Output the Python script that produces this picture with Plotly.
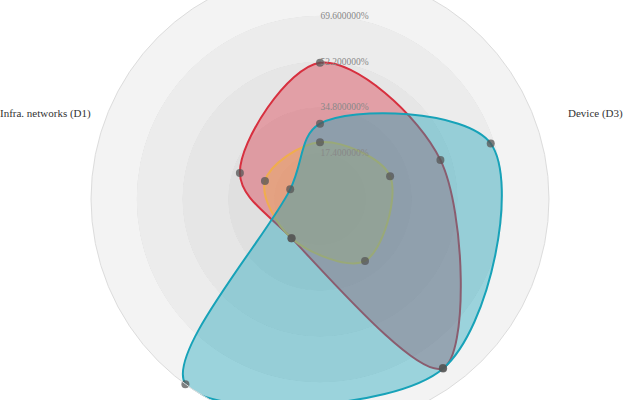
import math
import plotly.graph_objects as go

categories = ["Infra. networks (D1)", "(D2)", "Device (D3)", "(D4)", "(D5)"]
series_names = ["Series A", "Series B", "Series C"]
red_values = [32.0, 51.8, 48.1, 79.4, 18.4]
orange_values = [22.0, 21.6, 28.0, 29.1, 18.4]
teal_values = [11.9, 28.6, 68.2, 79.6, 87.0]
radial_ticks = [17.4, 34.8, 52.2, 69.6]
radial_max = 87.0
band_colors = ["#dbdbdb", "#e0e0e0", "#e6e6e6", "#ececec", "#f3f3f3"]

W, H = 640, 458
ROT = 162
step = 360 / len(categories)
thetas = [i * step for i in range(len(categories))]

fig = go.Figure()

# background bands
band_w = radial_max / len(band_colors)
fig.add_trace(go.Barpolar(
    r=[band_w] * len(band_colors),
    base=[i * band_w for i in range(len(band_colors))],
    theta=[0] * len(band_colors),
    width=[360] * len(band_colors),
    marker=dict(color=band_colors, line=dict(width=0)),
    hoverinfo="skip", showlegend=False,
))

series = [
    (series_names[0], red_values, "#d7303f", "rgba(220,53,69,0.4)"),
    (series_names[1], orange_values, "#f0ad4e", "rgba(240,173,78,0.38)"),
    (series_names[2], teal_values, "#17a2b8", "rgba(23,162,184,0.4)"),
]
for name, vals, lc, fc in series:
    fig.add_trace(go.Scatterpolar(
        r=vals + vals[:1], theta=thetas + thetas[:1], mode="lines",
        line=dict(color=lc, width=2, shape="spline", smoothing=1),
        fill="toself", fillcolor=fc, name=name, showlegend=False,
    ))
for name, vals, lc, fc in series:
    fig.add_trace(go.Scatterpolar(
        r=vals, theta=thetas, mode="markers",
        marker=dict(color="rgba(85,85,85,0.75)", size=8),
        name=name, showlegend=False,
    ))

# category names placed just outside the outer ring
radius_px = min(W, H) / 2
label_r = radius_px + 20
annotations = []
for cat, th in zip(categories, thetas):
    ang = math.radians(ROT - th)
    c, s = math.cos(ang), math.sin(ang)
    r_lab = label_r if abs(s) < 0.5 else label_r + 15
    x = 0.5 + (r_lab * c + 9.5) / W
    y = 0.5 + (r_lab * s) / H
    xa = "left" if c > 0.1 else ("right" if c < -0.1 else "center")
    ya = "bottom" if s > 0 else "top"
    annotations.append(dict(x=x, y=y, xref="paper", yref="paper", text=cat,
                            showarrow=False, xanchor=xa, yanchor=ya,
                            font=dict(size=11, color="#333")))

fig.update_layout(
    width=W, height=H,
    margin=dict(l=0, r=0, t=0, b=0),
    paper_bgcolor="white",
    font=dict(family="Liberation Serif", size=11, color="#333"),
    showlegend=False,
    annotations=annotations,
    polar=dict(
        domain=dict(x=[0, 1], y=[0, 1]),
        bgcolor="white",
        barmode="overlay",
        radialaxis=dict(
            range=[0, radial_max], angle=90, tickangle=90,
            tickvals=radial_ticks,
            ticktext=[f"{v:.6f}%" for v in radial_ticks],
            showline=False, ticks="", gridcolor="#cfcfcf", gridwidth=1,
            tickfont=dict(size=9.5, color="#888"), layer="above traces",
        ),
        angularaxis=dict(
            tickmode="array", tickvals=thetas, ticktext=categories,
            showticklabels=False,
            rotation=ROT, direction="clockwise",
            showgrid=True, gridcolor="white", gridwidth=1.5,
            showline=True, linecolor="#dcdcdc", ticks="",
            layer="above traces",
        ),
    ),
)

post = ("var gd=document.getElementById('{plot_id}');"
        "document.body.style.margin='0';document.body.style.overflow='hidden';"
        "gd.style.marginTop='-30px';")
fig.write_html("out.html", post_script=post)
